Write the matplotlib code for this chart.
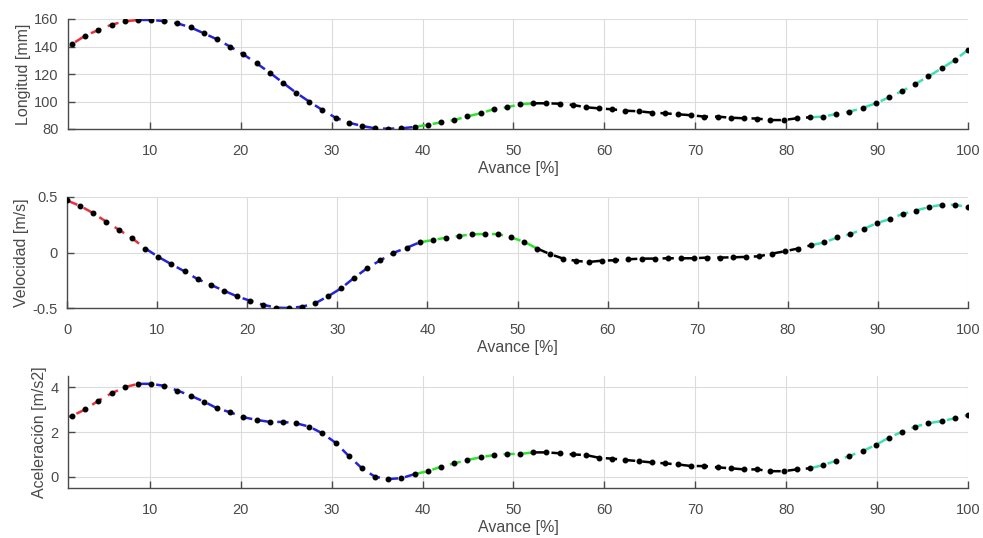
import matplotlib
matplotlib.use('Agg')
import matplotlib.pyplot as plt
import numpy as np

plt.rcParams['font.family'] = ['Liberation Sans', 'DejaVu Sans']

# avance del ciclo (70 muestras)
avance = np.linspace(0, 100, 70)

longitud = [137.0, 141.8, 147.9, 152.0, 155.9, 158.3, 159.3, 159.3, 158.5, 156.8,
            153.9, 149.6, 145.2, 139.9, 134.3, 127.8, 121.0, 113.7, 106.4, 99.9,
            93.8, 88.2, 84.6, 82.2, 80.5, 80.2, 80.5, 81.5, 83.1, 84.8,
            86.5, 89.2, 91.4, 94.4, 95.8, 98.0, 98.7, 98.7, 98.4, 97.5,
            95.8, 95.0, 94.3, 93.3, 92.9, 91.9, 91.4, 90.7, 90.0, 89.0,
            89.0, 88.2, 87.8, 87.6, 86.5, 86.5, 87.8, 88.5, 89.0, 90.9,
            92.6, 95.3, 98.7, 103.0, 107.6, 112.7, 118.3, 124.1, 130.2, 137.5]

velocidad = [0.469, 0.42, 0.355, 0.278, 0.203, 0.127, 0.036, -0.04, -0.106, -0.17,
             -0.24, -0.291, -0.343, -0.394, -0.434, -0.47, -0.497, -0.5, -0.488, -0.458,
             -0.394, -0.322, -0.227, -0.14, -0.07, -0.003, 0.042, 0.091, 0.112, 0.133,
             0.148, 0.164, 0.166, 0.166, 0.136, 0.097, 0.036, -0.015, -0.055, -0.076,
             -0.085, -0.073, -0.07, -0.061, -0.055, -0.055, -0.052, -0.052, -0.052, -0.046,
             -0.046, -0.043, -0.04, -0.034, -0.01, 0.012, 0.036, 0.066, 0.091, 0.136,
             0.166, 0.212, 0.264, 0.30, 0.348, 0.378, 0.409, 0.43, 0.43, 0.409]

aceleracion = [2.6, 2.72, 3.01, 3.40, 3.73, 4.00, 4.15, 4.15, 4.06, 3.85,
               3.62, 3.36, 3.06, 2.88, 2.66, 2.54, 2.45, 2.45, 2.39, 2.24,
               1.94, 1.52, 0.93, 0.38, 0.0, -0.1, -0.06, 0.12, 0.25, 0.45,
               0.60, 0.75, 0.87, 0.97, 1.02, 1.02, 1.09, 1.09, 1.05, 1.00,
               0.97, 0.85, 0.81, 0.75, 0.70, 0.64, 0.60, 0.55, 0.48, 0.48,
               0.42, 0.38, 0.33, 0.33, 0.25, 0.25, 0.33, 0.38, 0.52, 0.72,
               0.93, 1.15, 1.42, 1.75, 2.01, 2.24, 2.39, 2.49, 2.61, 2.76]

# indices de inicio de cada fase y su color
fases = [0, 6, 27, 36, 57, 69]
colores_fase = ['#e8323c', '#2424d8', '#2ee62e', 'k', '#3ee0b4']

ylabels = ['Longitud [mm]', 'Velocidad [m/s]', 'Aceleración [m/s2]']
ylims = [(80, 160), (-0.5, 0.5), (-0.5, 4.5)]
yticks = [[80, 100, 120, 140, 160], [-0.5, 0, 0.5], [0, 2, 4]]
xlims = [(1, 100), (0, 100), (1, 100)]
xticks = [[10, 20, 30, 40, 50, 60, 70, 80, 90, 100],
          [0, 10, 20, 30, 40, 50, 60, 70, 80, 90, 100],
          [10, 20, 30, 40, 50, 60, 70, 80, 90, 100]]

W, H = 983, 538
fig = plt.figure(figsize=(W / 100, H / 100), dpi=100)

# posiciones en pixeles: izquierda, derecha, arriba, abajo
cajas = [(68, 968, 19, 129), (67, 968, 197, 308), (68, 968, 376, 488)]

series = [longitud, velocidad, aceleracion]
gris = '#4a4a4a'

for k in range(3):
    l, r, t, b = cajas[k]
    ax = fig.add_axes([l / W, 1 - b / H, (r - l) / W, (b - t) / H])
    y = np.array(series[k])
    for j in range(len(colores_fase)):
        i0, i1 = fases[j], fases[j + 1]
        ax.plot(avance[i0:i1 + 1], y[i0:i1 + 1], '--', color=colores_fase[j],
                lw=1.8, dashes=(4.5, 2.8), zorder=2)
    ax.plot(avance, y, '.', color='k', ms=6.5, zorder=3)
    ax.set_xlim(*xlims[k])
    ax.set_ylim(*ylims[k])
    ax.set_xticks(xticks[k])
    ax.set_yticks(yticks[k])
    ax.set_yticklabels([f'{v:g}' for v in yticks[k]])
    ax.grid(True, color='#dcdcdc', lw=0.8)
    ax.set_axisbelow(True)
    for s in ['top', 'right']:
        ax.spines[s].set_visible(False)
    for s in ['left', 'bottom']:
        ax.spines[s].set_color(gris)
        ax.spines[s].set_linewidth(1.0)
    ax.tick_params(direction='in', length=5, width=1.0, colors=gris,
                   labelsize=10.5, labelcolor=gris)
    ax.tick_params(axis='x', pad=11)
    ax.tick_params(axis='y', pad=7)
    ax.set_xlabel('Avance [%]', fontsize=11.5, color=gris, labelpad=2)
    ax.set_ylabel(ylabels[k], fontsize=11.5, color=gris, labelpad=2)

fig.savefig('out.png', dpi=100)
